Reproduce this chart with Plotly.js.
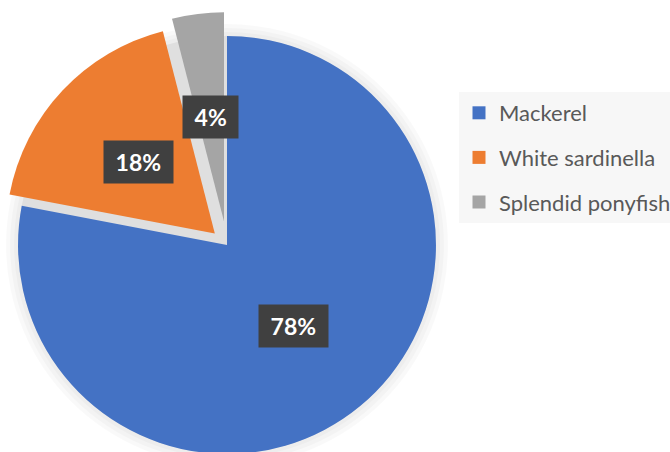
<!DOCTYPE html>
<html>
<head>
<meta charset="utf-8">
<script src="https://cdn.plot.ly/plotly-3.0.1.min.js"></script>
<style>
  html, body { margin: 0; padding: 0; overflow: hidden; background: #ffffff; }
  #chart { position: absolute; left: -10px; top: 0; width: 690px; height: 480px; }
</style>
</head>
<body>
<div id="chart"></div>
<script>
// ---- data ----
const categories = ["Mackerel", "White sardinella", "Splendid ponyfish"];
const values = [78, 18, 4];
const labels = ["78%", "18%", "4%"];
const colors = ["#4472C4", "#ED7D31", "#A5A5A5"];
const pulls = [0, 0.08, 0.115];

// ---- geometry (mirrors Plotly's pie layout maths) ----
const W = 690, H = 480;
const margin = { l: 0, r: 0, t: 12, b: 2 };
const domX = [4 / W, 470 / W], domY = [0, 1];
const pw = W - margin.l - margin.r, ph = H - margin.t - margin.b;
const maxPull = Math.max(...pulls);
const R = Math.min(pw * (domX[1] - domX[0]), ph * (domY[1] - domY[0])) / 2 / (1 + maxPull);
const cx = margin.l + pw * (domX[0] + domX[1]) / 2;
const cy = margin.t + ph * (1 - (domY[0] + domY[1]) / 2);
const toPX = px => (px - margin.l) / pw;
const toPY = py => 1 - (py - margin.t) / ph;

const total = values.reduce((a, b) => a + b, 0);
const annotations = [];
let cum = 0;
values.forEach((v, i) => {
  const mid = (cum + v / 2) / total * 2 * Math.PI;
  cum += v;
  const dx = Math.sin(mid), dy = -Math.cos(mid);
  const d = (pulls[i] + 0.5) * R;
  annotations.push({
    xref: "paper", yref: "paper",
    x: toPX(cx + d * dx), y: toPY(cy + d * dy),
    xanchor: "center", yanchor: "middle",
    text: "\u00a0" + labels[i] + "\u00a0",
    showarrow: false,
    bgcolor: "#404040",
    borderpad: 6,
    height: 30,
    font: { family: "Lato, 'Open Sans', sans-serif", size: 23, color: "#ffffff", weight: 700 }
  });
});

// soft shadow behind the pie
const shapes = [12, 8, 4, 0].map((extra, k) => ({
  type: "circle", layer: "below",
  xref: "paper", yref: "paper",
  xsizemode: "pixel", ysizemode: "pixel",
  xanchor: toPX(cx), yanchor: toPY(cy),
  x0: -(R + extra), x1: R + extra, y0: -(R + extra), y1: R + extra,
  fillcolor: k === 3 ? "rgba(0,0,0,0.06)" : "rgba(0,0,0,0.022)", line: { width: 0 }
}));

const traces = [{
  type: "pie",
  values: values,
  labels: categories,
  marker: { colors: colors, line: { width: 0 } },
  pull: pulls,
  sort: false,
  direction: "clockwise",
  rotation: 0,
  textinfo: "none",
  hoverinfo: "none",
  showlegend: false,
  domain: { x: domX, y: domY }
}];

// legend entries
categories.forEach((c, i) => {
  traces.push({
    type: "scatter", mode: "markers",
    x: [null], y: [null],
    name: c,
    legendgroup: "g" + i,
    marker: { symbol: "square", size: 13, color: colors[i] },
    hoverinfo: "none",
    showlegend: true
  });
});

const layout = {
  width: W, height: H,
  margin: margin,
  paper_bgcolor: "#ffffff",
  plot_bgcolor: "rgba(0,0,0,0)",
  xaxis: { visible: false, fixedrange: true },
  yaxis: { visible: false, fixedrange: true },
  showlegend: true,
  legend: {
    x: toPX(469), y: toPY(92),
    xanchor: "left", yanchor: "top",
    bgcolor: "#f7f7f7",
    borderwidth: 0,
    tracegroupgap: 13,
    traceorder: "grouped",
    font: { family: "Lato, 'Open Sans', sans-serif", size: 22, color: "#595959" }
  },
  shapes: shapes,
  annotations: annotations
};

Plotly.newPlot("chart", traces, layout, { displayModeBar: false, staticPlot: true });
</script>
</body>
</html>
